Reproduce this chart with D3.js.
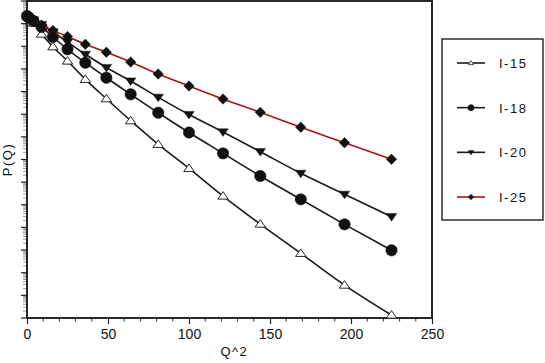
<!DOCTYPE html>
<html>
<head>
<meta charset="utf-8">
<script src="https://cdn.jsdelivr.net/npm/d3@7"></script>
<style>
  body { margin: 0; background: #fff; }
  svg { display: block; }
  .tick-lab { font-family: "Liberation Sans", Arial, sans-serif; font-size: 14px; fill: #111; }
  .ttl { font-family: "Liberation Sans", Arial, sans-serif; font-size: 13px; fill: #111; letter-spacing: 1.5px; }
</style>
</head>
<body>
<svg id="chart" width="545" height="363"></svg>
<script>
// Q^2 positions (Q = 0..15)
var q2 = [0, 1, 4, 9, 16, 25, 36, 49, 64, 81, 100, 121, 144, 169, 196, 225];

// P(Q)
var p15 = [0.217, 0.187, 0.107, 0.0348, 9.57e-3, 2.24e-3, 3.48e-4, 4.84e-5, 5.16e-6, 4.68e-7, 4.07e-8, 2.44e-9, 1.41e-10, 7.18e-12, 2.85e-13, 1.35e-14];
var p18 = [0.217, 0.187, 0.131, 0.0711, 0.0257, 7.36e-3, 1.88e-3, 4.09e-4, 7.57e-5, 1.16e-5, 1.55e-6, 1.87e-7, 1.86e-8, 1.74e-9, 1.37e-10, 9.75e-12];
var p20 = [0.217, 0.196, 0.145, 0.0916, 0.0428, 0.01545, 4.43e-3, 1.156e-3, 2.92e-4, 5.57e-5, 9.70e-6, 1.64e-6, 2.21e-7, 2.45e-8, 2.90e-9, 2.97e-10];
var p25 = [0.217, 0.196, 0.145, 0.0871, 0.0498, 0.0270, 0.01222, 5.42e-3, 2.02e-3, 5.97e-4, 1.76e-4, 4.69e-5, 1.21e-5, 2.64e-6, 5.51e-7, 1.02e-7];

var seriesNames = ["I-15", "I-18", "I-20", "I-25"];
var xTicks = [0, 50, 100, 150, 200, 250];

var svg = d3.select("#chart");
var plot = {left: 27, right: 432, top: 1, bottom: 318};

var x = d3.scaleLinear().domain([0, 250]).range([plot.left, plot.right]);
var y = d3.scaleLog().domain([1e-14, 1]).range([plot.bottom, plot.top]);

var series = [
	{name: seriesNames[0], vals: p15, color: "#1a1a1a", sym: "triUp"},
	{name: seriesNames[1], vals: p18, color: "#1a1a1a", sym: "circle"},
	{name: seriesNames[2], vals: p20, color: "#1a1a1a", sym: "triDown"},
	{name: seriesNames[3], vals: p25, color: "#a31515", sym: "diamond"}
];

// marker path around (0,0)
function markerPath(sym, s){
	if (sym == "triUp") return "M0," + (-s*0.85) + "L" + s + "," + (s*0.6) + "L" + (-s) + "," + (s*0.6) + "Z";
	if (sym == "triDown") return "M" + (-s) + "," + (-s*0.6) + "L" + s + "," + (-s*0.6) + "L0," + (s*0.85) + "Z";
	if (sym == "diamond") return "M0," + (-s) + "L" + s + ",0L0," + s + "L" + (-s) + ",0Z";
	return d3.arc()({innerRadius: 0, outerRadius: s, startAngle: 0, endAngle: 2*Math.PI});
}

// x axis ticks (minor every 10)
var xAxis = d3.axisBottom(x).tickValues(xTicks).tickSize(6).tickFormat(d3.format("d"));
var gx = svg.append("g").attr("transform", "translate(0," + plot.bottom + ")").call(xAxis);
gx.select(".domain").remove();
gx.selectAll("line").attr("stroke", "#222").attr("stroke-width", 1.2);
gx.selectAll("text").attr("class", "tick-lab").attr("dy", "1.05em").attr("y", 6);

var xMinor = d3.range(0, 251, 10).filter(function(d){ return d % 50 != 0; });
svg.append("g").selectAll("line").data(xMinor).enter().append("line")
	.attr("x1", function(d){ return x(d); }).attr("x2", function(d){ return x(d); })
	.attr("y1", plot.bottom).attr("y2", plot.bottom + 3.5)
	.attr("stroke", "#333").attr("stroke-width", 1);

// y axis: decade ticks plus log minors, no labels
var decades = d3.range(-14, 1).map(function(e){ return Math.pow(10, e); });
var yMinor = [];
decades.slice(0, -1).forEach(function(d){
	for (var k = 2; k <= 9; k++) yMinor.push(d*k);
});
svg.append("g").selectAll("line").data(yMinor).enter().append("line")
	.attr("x1", plot.left - 4).attr("x2", plot.left)
	.attr("y1", function(d){ return y(d); }).attr("y2", function(d){ return y(d); })
	.attr("stroke", "#888").attr("stroke-width", 0.8);
svg.append("g").selectAll("line").data(decades).enter().append("line")
	.attr("x1", plot.left - 6).attr("x2", plot.left)
	.attr("y1", function(d){ return y(d); }).attr("y2", function(d){ return y(d); })
	.attr("stroke", "#222").attr("stroke-width", 1.2);

// frame
svg.append("rect")
	.attr("x", plot.left).attr("y", plot.top)
	.attr("width", plot.right - plot.left).attr("height", plot.bottom - plot.top)
	.attr("fill", "none").attr("stroke", "#111").attr("stroke-width", 1.8);

// titles
svg.append("text").attr("class", "ttl")
	.attr("x", x(128)).attr("y", 356).attr("text-anchor", "middle").text("Q^2");
svg.append("text").attr("class", "ttl")
	.attr("transform", "translate(12," + ((plot.top + plot.bottom)/2) + ") rotate(-90)")
	.attr("text-anchor", "middle").text("P(Q)");

// lines and markers
var line = d3.line()
	.x(function(d){ return x(d.q); })
	.y(function(d){ return y(d.p); })
	.curve(d3.curveMonotoneX);

series.forEach(function(s){
	var pts = s.vals.map(function(v, i){ return {q: q2[i], p: v}; });
	var g = svg.append("g").attr("class", "series");
	g.append("path").datum(pts)
		.attr("d", line).attr("fill", "none")
		.attr("stroke", s.color).attr("stroke-width", 1.6);
	g.selectAll("path.mk").data(pts).enter().append("path")
		.attr("class", "mk")
		.attr("transform", function(d){ return "translate(" + x(d.q) + "," + y(d.p) + ")"; })
		.attr("d", markerPath(s.sym, s.sym == "circle" ? 5.7 : 5.2))
		.attr("fill", s.sym == "triUp" ? "#fff" : "#111")
		.attr("stroke", "#111").attr("stroke-width", s.sym == "triUp" ? 0.9 : 0.5);
});

// legend
var legend = svg.append("g");
legend.append("rect")
	.attr("x", 442).attr("y", 39).attr("width", 101).attr("height", 181)
	.attr("fill", "#fff").attr("stroke", "#111").attr("stroke-width", 1.3);
var legY = d3.scalePoint().domain(seriesNames).range([63, 197]);
series.forEach(function(s){
	var ly = legY(s.name);
	legend.append("line").attr("x1", 457).attr("x2", 485).attr("y1", ly).attr("y2", ly)
		.attr("stroke", s.color).attr("stroke-width", 1.6);
	legend.append("path")
		.attr("transform", "translate(471," + ly + ")")
		.attr("d", markerPath(s.sym, s.sym == "circle" ? 3 : 2.7))
		.attr("fill", s.sym == "triUp" ? "#fff" : "#111")
		.attr("stroke", "#111").attr("stroke-width", 0.7);
	legend.append("text").attr("class", "ttl")
		.attr("x", 499).attr("y", ly + 5).text(s.name);
});
</script>
</body>
</html>
